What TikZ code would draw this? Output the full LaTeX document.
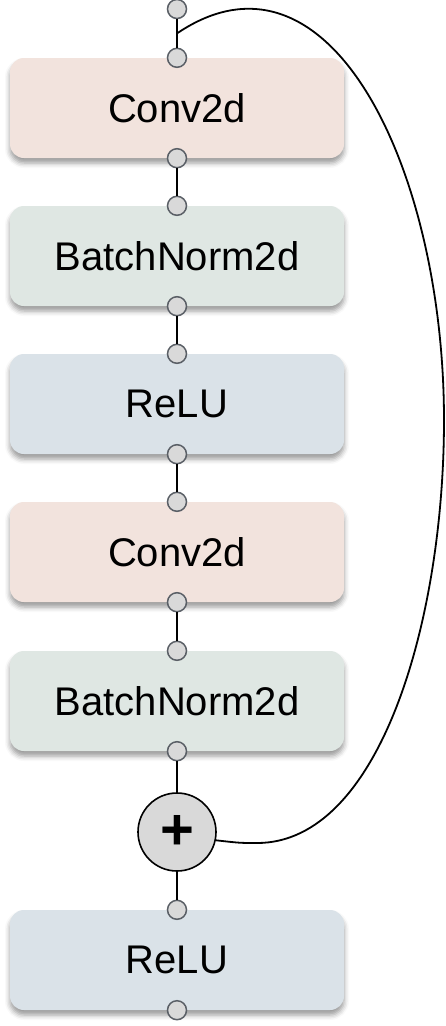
\documentclass[tikz,border=0pt]{standalone}
\usepackage{fontspec}
\setmainfont{Liberation Sans}
\usetikzlibrary{shadows.blur}
\definecolor{convc}{HTML}{F2E3DD}
\definecolor{bnc}{HTML}{DFE7E3}
\definecolor{reluc}{HTML}{DAE2E8}
\definecolor{portc}{HTML}{D9D9D9}
\definecolor{portd}{HTML}{5A5F66}
\tikzset{
  layerbox/.style={rounded corners=14pt, minimum width=334pt, minimum height=100pt, inner sep=0pt,
    font=\fontsize{40}{44}\selectfont, text=black,
    blur shadow={shadow xshift=0pt, shadow yshift=-5pt, shadow blur radius=5pt, shadow opacity=40}},
  port/.style={circle, minimum size=19pt, inner sep=0pt, fill=portc, draw=portd, line width=1.5pt},
  wire/.style={line width=1.8pt, black},
  addnode/.style={circle, minimum size=78pt, inner sep=0pt, fill=portc, draw=black, line width=1.6pt,
    font=\fontsize{58}{58}\selectfont\bfseries},
}
\begin{document}
\begin{tikzpicture}[x=1pt,y=-1pt]
\useasboundingbox (0,0) rectangle (446,1026);
\node[layerbox, fill=convc] (b1) at (177,108) {Conv2d};
\node[layerbox, fill=bnc] (b2) at (177,256) {BatchNorm2d};
\node[layerbox, fill=reluc] (b3) at (177,404) {ReLU};
\node[layerbox, fill=convc] (b4) at (177,552) {Conv2d};
\node[layerbox, fill=bnc] (b5) at (177,701) {BatchNorm2d};
\node[layerbox, fill=reluc] (b6) at (177,960) {ReLU};
\node[addnode] (add) at (177,832) {+};
% ports
\node[port] (in) at (177,9) {};
\foreach \b in {b1,b2,b3,b4,b5,b6}{
  \node[port] (\b n) at (\b.north) {};
  \node[port] (\b s) at (\b.south) {};
}
% wires
\draw[wire] (in) -- (b1n) coordinate[pos=0.5] (split);
\draw[wire] (b1s) -- (b2n);
\draw[wire] (b2s) -- (b3n);
\draw[wire] (b3s) -- (b4n);
\draw[wire] (b4s) -- (b5n);
\draw[wire] (b5s) -- (add);
\draw[wire] (add) -- (b6n);
\coordinate (far) at (444,420);
\coordinate (low) at (257,843);
\draw[wire] (split) .. controls (330,-70) and (444,170) .. (far)
  .. controls (444,620) and (380,843) .. (low)
  .. controls (240,843) .. (add.-12);
\end{tikzpicture}
\end{document}
